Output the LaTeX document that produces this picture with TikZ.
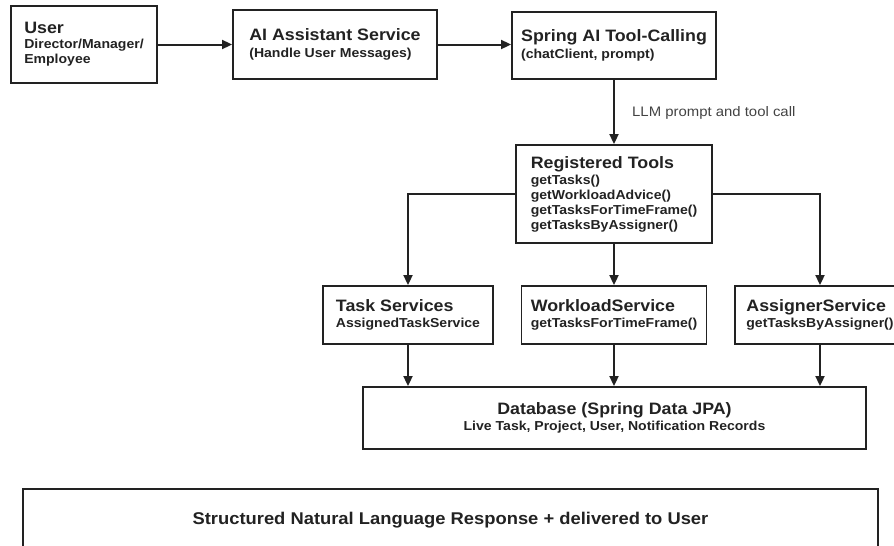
\documentclass[tikz,border=0pt]{standalone}
\usepackage{fontspec}
\setmainfont{Liberation Sans}[FakeStretch=1.08]
\usetikzlibrary{arrows.meta}
\definecolor{ink}{HTML}{222222}
\newcommand\boxtitle[1]{{\fontsize{16.5}{15}\selectfont #1}}
\begin{document}
\begin{tikzpicture}[x=1pt,y=-1pt,
  box/.style={draw=ink, line width=1.9pt, rectangle, align=left, inner sep=0pt,
    text=ink, font=\fontsize{13}{15}\selectfont\bfseries},
  conn/.style={draw=ink, line width=2pt, -{Triangle[length=10pt,width=9pt]}},
  lbl/.style={text=ink!85, font=\fontsize{13.8}{15}\selectfont, inner sep=0pt}
]
\useasboundingbox (0,0) rectangle (894,546);
\clip (0,0) rectangle (894,546);

\node[box, minimum width=146pt, minimum height=77pt] (user) at (84,44.5)
  {\boxtitle{User}\\Director/Manager/\\Employee};
\node[box, minimum width=204pt, minimum height=69pt] (ai) at (335,44.5)
  {\boxtitle{AI Assistant Service}\\[1.5pt](Handle User Messages)};
\node[box, minimum width=204pt, minimum height=67pt] (spring) at (614,45.5)
  {\boxtitle{Spring AI Tool-Calling}\\[1.5pt](chatClient, prompt)};
\node[box, minimum width=196pt, minimum height=98pt] (tools) at (614,194)
  {\boxtitle{Registered Tools}\\[1pt]getTasks()\\getWorkloadAdvice()\\getTasksForTimeFrame()\\getTasksByAssigner()};
\node[box, minimum width=170pt, minimum height=58pt] (task) at (408,315)
  {\boxtitle{Task Services}\\[1.5pt]AssignedTaskService};
\node[box, minimum width=185pt, minimum height=58pt] (workload) at (614,315)
  {\boxtitle{WorkloadService}\\[1.5pt]getTasksForTimeFrame()};
\node[box, minimum width=170pt, minimum height=58pt] (assigner) at (820,315)
  {\boxtitle{AssignerService}\\[1.5pt]getTasksByAssigner()};
\node[box, align=center, minimum width=503pt, minimum height=62pt] (db) at (614.5,418)
  {\boxtitle{Database (Spring Data JPA)}\\[1pt]Live Task, Project, User, Notification Records};
\node[box, align=center, minimum width=855pt, minimum height=62pt,
  font=\fontsize{17}{20}\selectfont\bfseries] (resp) at (450.5,520)
  {Structured Natural Language Response + delivered to User};

\node[lbl, anchor=west] (llm) at (632,112.7) {LLM prompt and tool call};

\draw[conn] (user.east) -- (ai.west);
\draw[conn] (ai.east) -- (ai.east -| spring.west);
\draw[conn] (spring.south) -- (tools.north);
\draw[conn] (tools.west) -| (task.north);
\draw[conn] (tools.south) -- (workload.north);
\draw[conn] (tools.east) -| (assigner.north);
\draw[conn] (task.south) -- (task.south |- db.north);
\draw[conn] (workload.south) -- (workload.south |- db.north);
\draw[conn] (assigner.south) -- (assigner.south |- db.north);
\end{tikzpicture}
\end{document}
